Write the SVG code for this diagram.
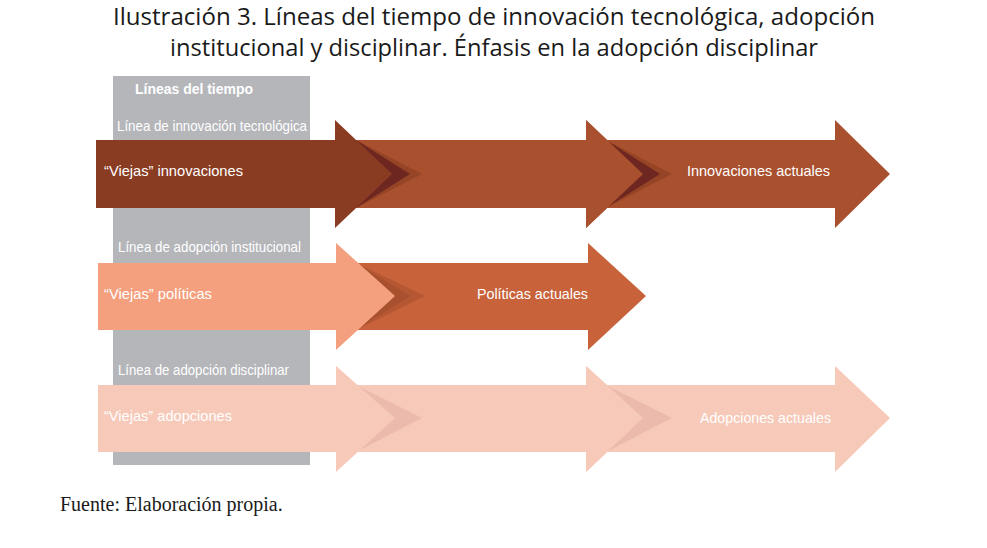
<svg xmlns="http://www.w3.org/2000/svg" width="987" height="548" viewBox="0 0 987 548">
<style>
.t{font-family:"Open Sans","Liberation Sans",sans-serif;font-size:23px;fill:#1a1a1a;text-anchor:middle}
.l{font-family:"Liberation Sans",sans-serif;font-size:15px;fill:#fff}
.f{font-family:"Liberation Serif",serif;font-size:20px;fill:#1a1a1a}
</style>
<rect width="987" height="548" fill="#fff"/>
<text class="t" x="494" y="25" textLength="762" lengthAdjust="spacingAndGlyphs">Ilustración 3. Líneas del tiempo de innovación tecnológica, adopción</text>
<text class="t" x="494" y="56" textLength="648" lengthAdjust="spacingAndGlyphs">institucional y disciplinar. Énfasis en la adopción disciplinar</text>
<g id="column">
<rect x="113" y="76" width="197" height="389" fill="#b5b6ba"/>
<text class="l" x="135" y="94" font-weight="bold" textLength="118" lengthAdjust="spacingAndGlyphs">Líneas del tiempo</text>
<text class="l" x="117" y="131" textLength="190" lengthAdjust="spacingAndGlyphs">Línea de innovación tecnológica</text>
<text class="l" x="118" y="252" textLength="183" lengthAdjust="spacingAndGlyphs">Línea de adopción institucional</text>
<text class="l" x="118" y="375" textLength="171" lengthAdjust="spacingAndGlyphs">Línea de adopción disciplinar</text>
</g>
<g id="row1">
<polygon points="590,140 835,140 835,120 890,174 835,228 835,208 590,208" fill="#a9502e"/>
<polygon points="340,140 586,140 586,120 643,174 586,228 586,208 340,208" fill="#a9502e"/>
<polygon points="606,140 672,174 606,208" fill="#8a3c22" opacity="0.6"/>
<polygon points="606,140 660,174 606,208" fill="#6e2620"/>
<polygon points="356,140 422,174 356,208" fill="#8a3c22" opacity="0.6"/>
<polygon points="356,140 410,174 356,208" fill="#6e2620"/>
<polygon points="96,140 335,140 335,120 392,174 335,228 335,208 96,208" fill="#8a3c22"/>
<polygon points="586,140 586,120 643,174 586,228 586,208" fill="#a9502e"/>
<text class="l" x="104" y="176" font-size="16" textLength="139" lengthAdjust="spacingAndGlyphs">“Viejas” innovaciones</text>
<text class="l" x="687" y="176" font-size="16" textLength="143" lengthAdjust="spacingAndGlyphs">Innovaciones actuales</text>
</g>
<g id="row2">
<polygon points="340,263 588,263 588,243 646,296 588,350 588,330 340,330" fill="#c8623a"/>
<polygon points="356,263 425,296 356,330" fill="#a9502e" opacity="0.6"/>
<polygon points="356,263 410,296 356,330" fill="#a9502e"/>
<polygon points="98,263 336,263 336,243 395,296 336,350 336,330 98,330" fill="#f4a07e"/>
<text class="l" x="104" y="299" font-size="16" textLength="108" lengthAdjust="spacingAndGlyphs">“Viejas” políticas</text>
<text class="l" x="477" y="299" font-size="16" textLength="111" lengthAdjust="spacingAndGlyphs">Políticas actuales</text>
</g>
<g id="row3">
<polygon points="590,385 835,385 835,366 890,418 835,472 835,452 590,452" fill="#f7c9b9"/>
<polygon points="340,385 586,385 586,366 643,418 586,472 586,452 340,452" fill="#f7c9b9"/>
<polygon points="606,385 672,418 606,452" fill="#e6b4a8" opacity="0.7"/>
<polygon points="356,385 422,418 356,452" fill="#e6b4a8" opacity="0.7"/>
<polygon points="98,385 336,385 336,366 395,418 336,472 336,452 98,452" fill="#f7c9b9"/>
<polygon points="586,385 586,366 643,418 586,472 586,452" fill="#f7c9b9"/>
<text class="l" x="104" y="421" font-size="16" textLength="128" lengthAdjust="spacingAndGlyphs">“Viejas” adopciones</text>
<text class="l" x="700" y="423" font-size="16" textLength="131" lengthAdjust="spacingAndGlyphs">Adopciones actuales</text>
</g>
<text class="f" x="60" y="511">Fuente: Elaboración propia.</text>
</svg>
